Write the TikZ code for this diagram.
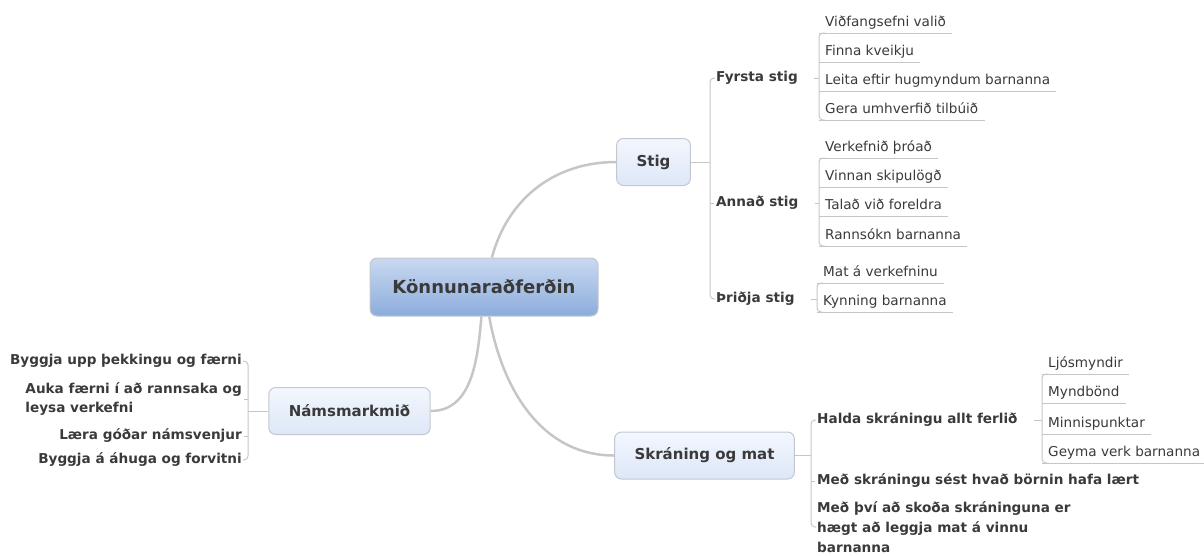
\documentclass[tikz,border=0pt]{standalone}
\usepackage{fontspec}
\setmainfont{DejaVu Sans}
\definecolor{rootTop}{HTML}{C9D9F1}
\definecolor{rootBot}{HTML}{8CACDC}
\definecolor{boxTop}{HTML}{F3F7FE}
\definecolor{boxBot}{HTML}{DDE7F7}
\definecolor{boxLine}{HTML}{C3C7CF}
\definecolor{branch}{HTML}{C6C6C6}
\definecolor{ink}{HTML}{3A3A3A}
\tikzset{
	rootbox/.style={draw=boxLine, line width=1pt, rounded corners=7pt, top color=rootTop, bottom color=rootBot, minimum width=228pt, minimum height=58pt, font=\fontsize{18}{22}\selectfont\bfseries, text=ink},
	mainbox/.style={draw=boxLine, line width=1pt, rounded corners=7pt, top color=boxTop, bottom color=boxBot, inner xsep=20pt, minimum height=47pt, font=\fontsize{15}{18}\selectfont\bfseries, text=ink},
	sublabel/.style={inner xsep=6pt, inner ysep=2pt, font=\fontsize{13.6}{19}\selectfont\bfseries, text=ink},
	leaf/.style={anchor=south west, inner xsep=6pt, inner ysep=0pt, text height=10pt, text depth=6pt, font=\fontsize{13.6}{17}\selectfont, text=ink},
	uline/.style={draw=branch, line width=1pt},
	bracket/.style={draw=branch, line width=1pt, rounded corners=4pt},
	bigline/.style={draw=branch, line width=2.5pt}
}

\begin{document}
\begin{tikzpicture}[x=1pt, y=-1pt]
		%%%%% START %%%%%
		\useasboundingbox (0,0) rectangle (1204,555);
		
		\node[rootbox] (root) at (484,287) {Könnunaraðferðin};
		\node[mainbox] (stig) at (653.5,162) {Stig};
		\node[mainbox] (nams) at (349.5,411) {Námsmarkmið};
		\node[mainbox] (skraning) at (704.5,455.5) {Skráning og mat};
		
		\draw[bigline] (root) to[out=75, in=180] (stig);
		\draw[bigline] (root) to[out=-95, in=0] (nams);
		\draw[bigline] (root) to[out=-80, in=180] (skraning);
		
		% Stig
		\node[sublabel, anchor=west] (fyrsta) at (710,78) {Fyrsta stig};
		\node[sublabel, anchor=west] (annad) at (710,203) {Annað stig};
		\node[sublabel, anchor=west] (thridja) at (710,299) {Þriðja stig};
		\draw[bracket] ([xshift=5pt]fyrsta.west) -- (fyrsta.west) -- (thridja.west) -- ([xshift=5pt]thridja.west);
		\draw[uline] (stig) -- (stig.east -| fyrsta.west);
		\draw[bracket] ([xshift=4pt]annad.west) -- (annad.west);
		
		\node[leaf] (f1) at (819,33) {Viðfangsefni valið};
		\node[leaf] (f2) at (819,62) {Finna kveikju};
		\node[leaf] (f3) at (819,91) {Leita eftir hugmyndum barnanna};
		\node[leaf] (f4) at (819,120) {Gera umhverfið tilbúið};
		\draw[uline] (f1.south west) -- (f1.south east);
		\draw[uline] (f2.south west) -- (f2.south east);
		\draw[uline] (f3.south west) -- (f3.south east);
		\draw[uline] (f4.south west) -- (f4.south east);
		\draw[bracket] ([xshift=6pt]f1.south west) -- (f1.south west) -- (f4.south west) -- ([xshift=6pt]f4.south west);
		\draw[uline, shorten <=10pt] (fyrsta.east) -- (fyrsta.east -| f1.south west);
		
		\node[leaf] (a1) at (819,158) {Verkefnið þróað};
		\node[leaf] (a2) at (819,187) {Vinnan skipulögð};
		\node[leaf] (a3) at (819,216) {Talað við foreldra};
		\node[leaf] (a4) at (819,246) {Rannsókn barnanna};
		\draw[uline] (a1.south west) -- (a1.south east);
		\draw[uline] (a2.south west) -- (a2.south east);
		\draw[uline] (a3.south west) -- (a3.south east);
		\draw[uline] (a4.south west) -- (a4.south east);
		\draw[bracket] ([xshift=6pt]a1.south west) -- (a1.south west) -- (a4.south west) -- ([xshift=6pt]a4.south west);
		\draw[uline, shorten <=10pt] (annad.east) -- (annad.east -| a1.south west);
		
		\node[leaf] (t1) at (817,283) {Mat á verkefninu};
		\node[leaf] (t2) at (817,312) {Kynning barnanna};
		\draw[uline] (t1.south west) -- (t1.south east);
		\draw[uline] (t2.south west) -- (t2.south east);
		\draw[bracket] ([xshift=6pt]t1.south west) -- (t1.south west) -- (t2.south west) -- ([xshift=6pt]t2.south west);
		\draw[uline, shorten <=10pt] (thridja.east) -- (thridja.east -| t1.south west);
		
		% Námsmarkmið
		\node[sublabel, anchor=east] (n1) at (248,361) {Byggja upp þekkingu og færni};
		\node[sublabel, anchor=east, align=left] (n2) at (248,399) {Auka færni í að rannsaka og\\leysa verkefni};
		\node[sublabel, anchor=east] (n3) at (248,436) {Læra góðar námsvenjur};
		\node[sublabel, anchor=east] (n4) at (248,460) {Byggja á áhuga og forvitni};
		\draw[bracket] ([xshift=-5pt]n1.east) -- (n1.east) -- (n4.east) -- ([xshift=-5pt]n4.east);
		\draw[bracket] ([xshift=-4pt]n2.east) -- (n2.east);
		\draw[bracket] ([xshift=-4pt]n3.east) -- (n3.east);
		\draw[uline] (nams) -- (nams.west -| n1.east);
		
		% Skráning og mat
		\node[sublabel, anchor=west] (halda) at (811,420) {Halda skráningu allt ferlið};
		\node[sublabel, anchor=west] (medskr) at (811,481) {Með skráningu sést hvað börnin hafa lært};
		\node[sublabel, anchor=west, align=left, font=\fontsize{13.6}{20}\selectfont\bfseries] (medthvi) at (811,527) {Með því að skoða skráninguna er\\hægt að leggja mat á vinnu\\barnanna};
		\draw[bracket] ([xshift=5pt]halda.west) -- (halda.west) -- (medthvi.west) -- ([xshift=5pt]medthvi.west);
		\draw[bracket] ([xshift=4pt]medskr.west) -- (medskr.west);
		\draw[uline] (skraning) -- (skraning.east -| halda.west);
		
		\node[leaf] (h1) at (1042,374) {Ljósmyndir};
		\node[leaf] (h2) at (1042,403) {Myndbönd};
		\node[leaf] (h3) at (1042,434) {Minnispunktar};
		\node[leaf] (h4) at (1042,463) {Geyma verk barnanna};
		\draw[uline] (h1.south west) -- (h1.south east);
		\draw[uline] (h2.south west) -- (h2.south east);
		\draw[uline] (h3.south west) -- (h3.south east);
		\draw[uline] (h4.south west) -- (h4.south east);
		\draw[bracket] ([xshift=6pt]h1.south west) -- (h1.south west) -- (h4.south west) -- ([xshift=6pt]h4.south west);
		\draw[uline, shorten <=10pt] (halda.east) -- (halda.east -| h1.south west);
		
		%%%%% END %%%%%
\end{tikzpicture}
\end{document}
